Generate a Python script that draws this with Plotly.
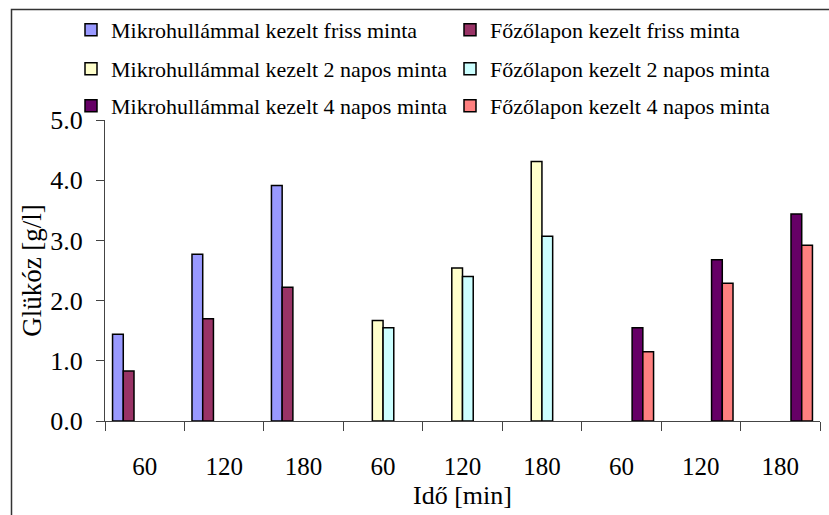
import plotly.graph_objects as go

# Data
categories = ["60", "120", "180", "60", "120", "180", "60", "120", "180"]
series_names = [
    "Mikrohullámmal kezelt friss minta",
    "Főzőlapon kezelt friss minta",
    "Mikrohullámmal kezelt 2 napos minta",
    "Főzőlapon kezelt 2 napos minta",
    "Mikrohullámmal kezelt 4 napos minta",
    "Főzőlapon kezelt 4 napos minta",
]
mikro_friss = [1.44, 2.77, 3.91, None, None, None, None, None, None]
fozo_friss = [0.83, 1.70, 2.22, None, None, None, None, None, None]
mikro_2nap = [None, None, None, 1.67, 2.54, 4.31, None, None, None]
fozo_2nap = [None, None, None, 1.55, 2.40, 3.07, None, None, None]
mikro_4nap = [None, None, None, None, None, None, 1.55, 2.68, 3.44]
fozo_4nap = [None, None, None, None, None, None, 1.15, 2.29, 2.92]
y_ticks = [0, 1, 2, 3, 4, 5]

series_values = [mikro_friss, fozo_friss, mikro_2nap, fozo_2nap, mikro_4nap, fozo_4nap]
colors = ["#9999FF", "#993366", "#FFFFCC", "#CCFFFF", "#660066", "#FF8080"]
legends = ["legend", "legend", "legend2", "legend2", "legend3", "legend3"]

FONT = "Liberation Serif"
x_pos = list(range(len(categories)))

fig = go.Figure()
for name, vals, col, lg in zip(series_names, series_values, colors, legends):
    fig.add_trace(go.Bar(
        x=x_pos, y=vals, name=name, legend=lg,
        marker=dict(color=col, line=dict(color="black", width=1.5)),
    ))

W, H = 829, 515
ml, mr, mt, mb = 105, 9, 120, 94
pw, ph = W - ml - mr, H - mt - mb

def px_x(px):
    return (px - ml) / pw

def px_y(py):
    return (H - mb - py) / ph

leg_common = dict(
    orientation="h", xanchor="left", yanchor="middle",
    font=dict(family=FONT, size=22, color="black"),
    entrywidth=334, entrywidthmode="pixels",
    bgcolor="rgba(0,0,0,0)", itemclick=False, itemdoubleclick=False,
)

fig.update_layout(
    width=W, height=H,
    margin=dict(l=ml, r=mr, t=mt, b=mb),
    paper_bgcolor="white", plot_bgcolor="white",
    font=dict(family=FONT, color="black"),
    barmode="group", bargap=0.19, bargroupgap=0,
    legend=dict(x=px_x(84), y=px_y(30), **leg_common),
    legend2=dict(x=px_x(84), y=px_y(69), **leg_common),
    legend3=dict(x=px_x(84), y=px_y(106), **leg_common),
    xaxis=dict(
        range=[-0.5, len(categories) - 0.5],
        tickmode="array", tickvals=x_pos, ticktext=categories,
        ticks="", showgrid=False, zeroline=False,
        showline=True, linecolor="#444", linewidth=1.2,
        tickfont=dict(family=FONT, size=25, color="black"),
        ticklabelstandoff=23,
        minor=dict(tickmode="array", tickvals=[i - 0.5 for i in range(len(categories) + 1)],
                   ticks="outside", ticklen=9, tickcolor="#444", tickwidth=1.2, showgrid=False),
        title=dict(text="Idő [min]", font=dict(family=FONT, size=26, color="black"), standoff=6),
    ),
    yaxis=dict(
        range=[0, 5], tickmode="array", tickvals=y_ticks, tickformat=".1f",
        ticks="outside", ticklen=8, tickcolor="#444", tickwidth=1.2,
        showgrid=False, zeroline=False,
        showline=True, linecolor="#444", linewidth=1.2,
        tickfont=dict(family=FONT, size=26, color="black"),
        ticklabelstandoff=8,
        title=dict(text="Glükóz [g/l]", font=dict(family=FONT, size=27, color="black"), standoff=0),
    ),
    shapes=[dict(
        type="rect", xref="paper", yref="paper",
        x0=px_x(11.5), x1=px_x(840), y0=px_y(530), y1=px_y(9.5),
        line=dict(color="#333", width=1.5), fillcolor="rgba(0,0,0,0)", layer="below",
    )],
)

fig.write_html("out.html")
